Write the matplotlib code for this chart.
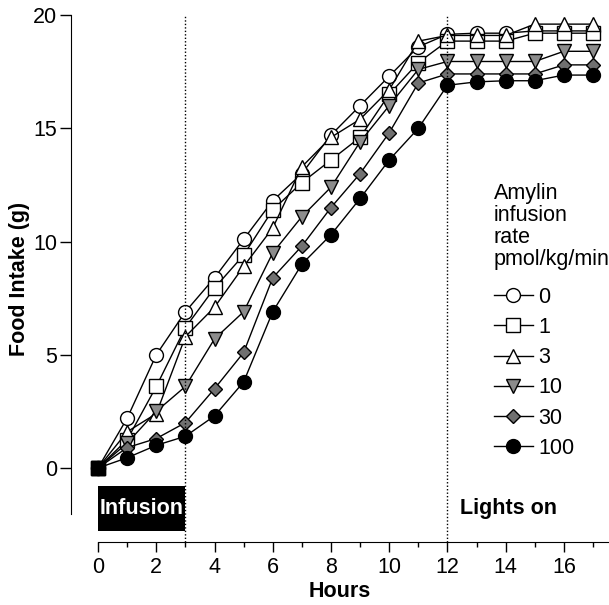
import matplotlib.pyplot as plt
from matplotlib.patches import Rectangle

plt.rcParams['font.family'] = ['Liberation Sans', 'DejaVu Sans']

hours = list(range(0, 18))

# food intake (g) per amylin infusion rate (pmol/kg/min)
rate_0 = [0, 2.2, 5.0, 6.9, 8.4, 10.1, 11.8, 13.0, 14.7, 16.0, 17.3, 18.6, 19.15, 19.2, 19.2, 19.3, 19.3, 19.3]
rate_1 = [0, 1.25, 3.6, 6.2, 7.95, 9.4, 11.4, 12.6, 13.6, 14.6, 16.5, 17.9, 18.85, 18.85, 18.85, 19.2, 19.2, 19.2]
rate_3 = [0, 1.6, 2.4, 5.8, 7.1, 8.9, 10.6, 13.3, 14.6, 15.4, 16.7, 18.85, 19.1, 19.1, 19.1, 19.6, 19.6, 19.6]
rate_10 = [0, 1.1, 2.5, 3.6, 5.7, 6.9, 9.5, 11.1, 12.4, 14.4, 16.0, 17.6, 17.95, 17.95, 17.95, 17.95, 18.4, 18.4]
rate_30 = [0, 0.9, 1.3, 2.0, 3.5, 5.1, 8.4, 9.8, 11.5, 13.0, 14.8, 17.0, 17.4, 17.4, 17.4, 17.4, 17.8, 17.8]
rate_100 = [0, 0.45, 1.0, 1.4, 2.3, 3.8, 6.9, 9.0, 10.3, 11.9, 13.6, 15.0, 16.9, 17.05, 17.1, 17.1, 17.35, 17.35]

series = [
    ("0", rate_0, "o", "white"),
    ("1", rate_1, "s", "white"),
    ("3", rate_3, "^", "white"),
    ("10", rate_10, "v", "#8c8c8c"),
    ("30", rate_30, "D", "#707070"),
    ("100", rate_100, "o", "black"),
]

fs = 15.5

fig = plt.figure(figsize=(6.09, 6.05), dpi=100)
ax = fig.add_axes([0.1166, 0.1041, 0.881, 0.871])

handles = []
for label, vals, marker, fill in series:
    ms = 7.5 if marker == "D" else 10
    h, = ax.plot(hours, vals, color="black", lw=1, marker=marker, ms=ms,
                 mfc=fill, mec="black", mew=1, label=label)
    handles.append(h)

# time zero marker
ax.plot([0], [0], marker="s", ms=10, color="black", zorder=5)

# light / infusion markers
ax.vlines([3, 12], -3.27, 20, colors="black", linestyles=(0, (1, 1.5)), lw=1)
ax.add_patch(Rectangle((0, -2.77), 3, 1.97, facecolor="black", edgecolor="none"))
ax.text(1.5, -1.81, "Infusion", color="white", fontsize=fs, fontweight="bold",
        ha="center", va="center")
ax.text(14.1, -1.81, "Lights on", color="black", fontsize=fs, fontweight="bold",
        ha="center", va="center")

ax.set_xlim(-0.93, 17.5)
ax.set_ylim(-3.27, 20)
ax.spines["top"].set_visible(False)
ax.spines["right"].set_visible(False)
ax.spines["left"].set_bounds(-2.04, 20)
ax.spines["bottom"].set_bounds(0, 17.5)

ax.set_xticks(range(0, 17, 2))
ax.set_xticks(range(1, 18, 2), minor=True)
ax.set_yticks([0, 5, 10, 15, 20])
ax.tick_params(axis="x", which="major", labelsize=fs, length=7, width=1, pad=4)
ax.tick_params(axis="y", which="major", labelsize=fs, length=8, width=1, pad=2)
ax.tick_params(axis="x", which="minor", length=3.5, width=1)

ax.set_xlabel("Hours", fontsize=fs, fontweight="bold", labelpad=2)
ax.set_ylabel("Food Intake (g)", fontsize=fs, fontweight="bold", labelpad=2)

leg = ax.legend(handles=handles, title="Amylin\ninfusion\nrate\npmol/kg/min",
                loc="upper left", bbox_to_anchor=(0.788, 0.682), frameon=False,
                borderpad=0, borderaxespad=0,
                fontsize=fs, title_fontsize=fs, markerscale=1.0,
                handlelength=1.8, handletextpad=0.28, labelspacing=0.43)
leg.get_title().set_linespacing(1.08)
leg._legend_box.align = "left"
leg._legend_box.sep = 0.43 * fs + 5  # a bit more room under the title

fig.savefig("out.png", dpi=100)
